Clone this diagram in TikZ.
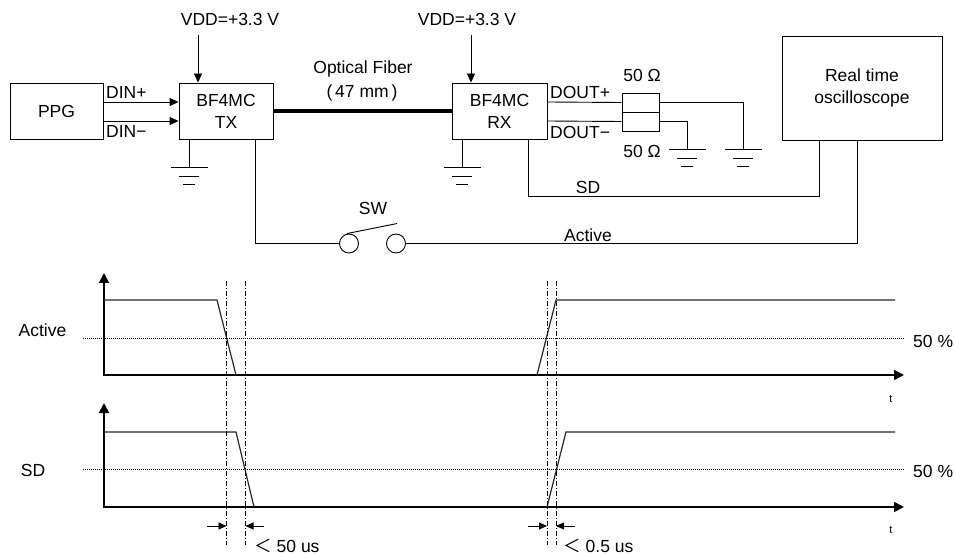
\documentclass[tikz,border=0pt]{standalone}
\usepackage{fontspec}
\setmainfont{Liberation Sans}
\newfontfamily\cjkf{Noto Sans CJK JP}
\usetikzlibrary{arrows.meta,calc}
\begin{document}
\begin{tikzpicture}[x=1pt,y=-1pt,
  font=\fontsize{17.5}{22}\selectfont,
  box/.style={draw, line width=0.9pt, inner sep=0pt, align=center},
  wire/.style={line width=0.9pt},
  arr/.style={line width=0.9pt, -{Triangle[length=9pt,width=8pt]}},
  dimarr/.style={line width=0.9pt, -{Triangle[length=8pt,width=7pt]}},
  axis/.style={line width=1.8pt, {Triangle[length=10pt,width=10pt]}-{Triangle[length=10pt,width=10pt]}, line join=miter},
  sig/.style={line width=1.2pt, draw=black!85, line join=miter},
  half/.style={line width=0.7pt, dash pattern=on 1pt off 1pt},
  guide/.style={line width=0.7pt, dash pattern=on 5pt off 2pt on 1pt off 2pt},
  small/.style={font=\fontsize{11}{13}\selectfont},
  gnd/.pic={\draw[line width=0.9pt] (-18.5,0) -- (18.5,0) (-10,9) -- (10,9) (-6,17) -- (6,17);}
]
\useasboundingbox (0,0) rectangle (954,556);

% ---------- blocks ----------
\node[box, minimum width=93pt, minimum height=56pt] (ppg) at (56.5,111) {PPG};
\node[box, minimum width=94pt, minimum height=56pt] (tx) at (226,111) {BF4MC\\TX};
\node[box, minimum width=95pt, minimum height=56pt] (rx) at (499.5,111) {BF4MC\\RX};
\node[box, minimum width=160pt, minimum height=104pt] (osc) at (862,88) {Real time\\oscilloscope};
\node[box, minimum width=37pt, minimum height=19pt] (r1) at (640.5,102.5) {};
\node[box, minimum width=37pt, minimum height=19pt] (r2) at (640.5,121.5) {};
\node[box, circle, minimum size=19pt] (sw1) at (349,243.5) {};
\node[box, circle, minimum size=19pt] (sw2) at (396,243.5) {};

% ---------- labels ----------
\node (vdd1) at (230,19) {VDD=+3.3 V};
\node (vdd2) at (467,19) {VDD=+3.3 V};
\node[inner sep=0pt, anchor=base west] (dinp) at (106,99) {DIN+};
\node[inner sep=0pt, anchor=base west] (dinm) at (106,138) {DIN−};
\node[inner sep=0pt, anchor=base west] (doutp) at (550,99) {DOUT+};
\node[inner sep=0pt, anchor=base west] (doutm) at (550,139) {DOUT−};
\node (fib1) at (363,69) {Optical Fiber};
\node (fib2) at (362,93) {(\,47 mm\,)};
\node (ohm1) at (642,75) {50 Ω};
\node (ohm2) at (642,151) {50 Ω};
\node (swl) at (373,208) {SW};
\node[inner sep=0pt, anchor=base] (sdl) at (588,194) {SD};
\node[inner sep=0pt, anchor=base] (actl) at (588,241.5) {Active};

% ---------- connections ----------
\draw[arr] ([shift={(-28pt,48pt)}]tx.north) coordinate (v1) -- ([xshift=-28pt]tx.north);
\draw[arr] ([shift={(-28.5pt,48pt)}]rx.north) coordinate (v2) -- ([xshift=-28.5pt]rx.north);
\draw[arr] ([yshift=9pt]ppg.east) -- ([yshift=9pt]tx.west);
\draw[arr] ([yshift=-10pt]ppg.east) -- ([yshift=-10pt]tx.west);
\draw[line width=3.5pt] (tx.east) -- (rx.west);
\draw[wire] ([yshift=9pt]rx.east) -- (r1.west);
\draw[wire] ([yshift=-10pt]rx.east) -- (r2.west);
\draw[wire] (r1.east) -- ++(84,0) -- ++(0,47) pic{gnd};
\draw[wire] (r2.east) -- ++(28,0) -- ++(0,28) pic{gnd};
\draw[wire] ([xshift=-37pt]tx.south) -- ++(0,28) pic{gnd};
\draw[wire] ([xshift=-37.5pt]rx.south) -- ++(0,28) pic{gnd};
\draw[wire] ([xshift=28.5pt]rx.south) |- ([shift={(-43pt,-56pt)}]osc.south) -- ([xshift=-43pt]osc.south);
\draw[wire] ([xshift=29pt]tx.south) |- (sw1.west);
\draw[wire] ([xshift=-5pt]osc.south) |- (sw2.east);
\draw[wire] ([xshift=-2pt]sw1.north) -- ++(50,-10) coordinate (lev);

% ---------- timing: Active ----------
\draw[axis] (104,273) -- (104,375) -- (904,375);
\draw[half] (83,338) -- (905,338);
\draw[sig] (104,300) -- (217,300) -- (236,375);
\draw[sig] (537,375) -- (556,300) -- (895,300);
\node (lact) at (42.5,330) {Active};
\node[anchor=west, inner sep=0pt] (p1) at (913,341) {50 \%};
\node[small] (t1) at (891,399) {t};

% ---------- timing: SD ----------
\draw[axis] (104,403) -- (104,507) -- (904,507);
\draw[half] (83,469) -- (905,469);
\draw[sig] (104,432) -- (236,432) -- (254,507);
\draw[sig] (547,507) -- (566,432) -- (895,432);
\node (lsd) at (33,470) {SD};
\node[anchor=west, inner sep=0pt] (p2) at (913,471) {50 \%};
\node[small] (t2) at (891,530) {t};

% ---------- guides ----------
\foreach \gx in {226.5,245.5,547,556} \draw[guide] (\gx,281) -- (\gx,545);
\draw[dimarr] (207,526) -- (226.5,526);
\draw[dimarr] (264,526) -- (245.5,526);
\draw[dimarr] (528,526) -- (547,526);
\draw[dimarr] (575,526) -- (556,526);
\node[anchor=west, inner sep=0pt] (d1) at (254,546) {{\cjkf ＜}\hspace{5pt}50 us};
\node[anchor=west, inner sep=0pt] (d2) at (563,546) {{\cjkf ＜}\hspace{5pt}0.5 us};
\end{tikzpicture}
\end{document}
